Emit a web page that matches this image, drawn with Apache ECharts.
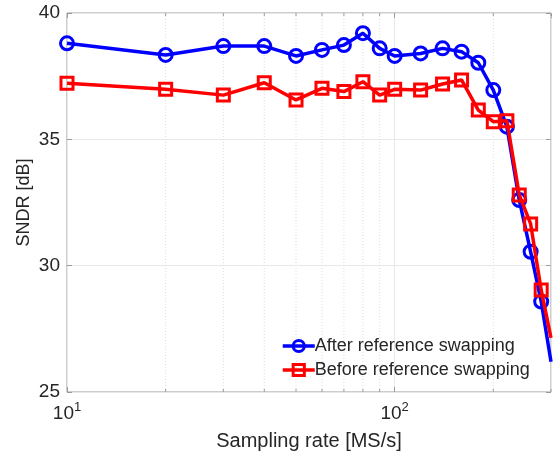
<!DOCTYPE html>
<html>
<head>
<meta charset="utf-8">
<script src="https://cdn.jsdelivr.net/npm/echarts@6/dist/echarts.min.js"></script>
<style>
    html, body { margin: 0; padding: 0; background: #fff; }
    #chart { width: 555px; height: 459px; }
</style>
</head>
<body>
<div id="chart"></div>
<script>
// sampling rates in MS/s
const rates = [10, 20, 30, 40, 50, 60, 70, 80, 90, 100, 120, 140, 160, 180, 200, 220, 240, 260, 280, 300];
const afterSwap = [38.8, 38.34, 38.69, 38.69, 38.3, 38.54, 38.73, 39.2, 38.6, 38.3, 38.4, 38.6, 38.47, 38.03, 36.95, 35.5, 32.6, 30.55, 28.58, 26.2];
const beforeSwap = [37.22, 36.98, 36.75, 37.24, 36.56, 37.02, 36.89, 37.28, 36.75, 36.98, 36.95, 37.19, 37.35, 36.16, 35.7, 35.74, 32.8, 31.65, 29.04, 27.14];
const minorX = [20, 30, 40, 50, 60, 70, 80, 90, 200, 300];
const yTicks = [25, 30, 35, 40];

const font = "Liberation Sans, Arial, sans-serif";
const textColor = "#262626";
const frameColor = "#9a9a9a";

function pairs(values) {
    return rates.map((r, i) => {
        // the last point sits on the frame, only its line shows
        if (i === rates.length - 1) return { value: [r, values[i]], symbol: "none" };
        return [r, values[i]];
    });
}

const chart = echarts.init(document.getElementById("chart"), null, { renderer: "canvas" });

chart.setOption({
    animation: false,
    backgroundColor: "#fff",
    grid: {
        left: 67, top: 13, width: 484, height: 379,
        show: true, borderColor: frameColor, borderWidth: 1, backgroundColor: "#fff"
    },
    legend: {
        orient: "vertical",
        left: 276, top: 332,
        itemWidth: 32, itemHeight: 14, itemGap: 6,
        lineStyle: { width: 3.5 },
        itemStyle: { borderWidth: 3 },
        textStyle: { fontFamily: font, fontSize: 18, color: textColor, padding: [0, 0, 0, -5] },
        data: ["After reference swapping", "Before reference swapping"]
    },
    xAxis: [{
        type: "log", logBase: 10, min: 10, max: 300, interval: 1,
        name: "Sampling rate [MS/s]", nameLocation: "middle", nameGap: 39,
        nameTextStyle: { fontFamily: font, fontSize: 20, color: textColor },
        axisLine: { show: false },
        axisTick: { inside: true, length: 5, lineStyle: { color: frameColor } },
        splitLine: { show: true, lineStyle: { color: "#e8e8e8", width: 1 } },
        axisLabel: {
            margin: 9,
            showMaxLabel: false,
            formatter: v => {
                const e = Math.round(Math.log10(v));
                if (Math.abs(Math.pow(10, e) - v) > 1e-6) return "";
                return "{b|10}{s|" + e + "}";
            },
            rich: {
                b: { fontFamily: font, fontSize: 19, color: textColor, verticalAlign: "bottom", lineHeight: 22 },
                s: { fontFamily: font, fontSize: 13, color: textColor, verticalAlign: "top", lineHeight: 22, padding: [0, 0, 8, 0] }
            }
        }
    }, {
        type: "log", logBase: 10, min: 10, max: 300, interval: 1, position: "top",
        axisLine: { show: false },
        axisTick: { inside: true, length: 5, lineStyle: { color: frameColor } },
        axisLabel: { show: false },
        splitLine: { show: false }
    }],
    yAxis: [{
        type: "value", min: yTicks[0], max: yTicks[yTicks.length - 1], interval: 5,
        name: "SNDR [dB]", nameLocation: "middle", nameGap: 34, nameRotate: 90,
        nameMoveOverlap: false,
        nameTextStyle: { fontFamily: font, fontSize: 18, color: textColor },
        axisLine: { show: false },
        axisTick: { inside: true, length: 5, lineStyle: { color: frameColor } },
        splitLine: { show: true, lineStyle: { color: "#e8e8e8", width: 1 } },
        axisLabel: { margin: 7, fontFamily: font, fontSize: 19, color: textColor }
    }, {
        type: "value", min: yTicks[0], max: yTicks[yTicks.length - 1], interval: 5, position: "right",
        axisLine: { show: false },
        axisTick: { inside: true, length: 5, lineStyle: { color: frameColor } },
        axisLabel: { show: false },
        splitLine: { show: false }
    }],
    series: [{
        // minor log grid, dotted, plus minor ticks on bottom and top
        type: "custom",
        silent: true,
        z: 1,
        data: minorX.map(x => [x]),
        renderItem: (params, api) => {
            const x = api.value(0);
            const bot = api.coord([x, yTicks[0]]);
            const top = api.coord([x, yTicks[yTicks.length - 1]]);
            const children = [{
                type: "line",
                shape: { x1: bot[0], y1: bot[1], x2: top[0], y2: top[1] },
                style: { stroke: "#dcdcdc", lineWidth: 1, lineDash: [1, 2] }
            }, {
                type: "line",
                shape: { x1: bot[0], y1: bot[1], x2: bot[0], y2: bot[1] - 3 },
                style: { stroke: frameColor, lineWidth: 1 }
            }, {
                type: "line",
                shape: { x1: top[0], y1: top[1], x2: top[0], y2: top[1] + 3 },
                style: { stroke: frameColor, lineWidth: 1 }
            }];
            return { type: "group", children: children };
        }
    }, {
        name: "After reference swapping",
        type: "line",
        data: pairs(afterSwap),
        z: 3,
        color: "#0000ff",
        lineStyle: { width: 3.5, color: "#0000ff" },
        symbol: "circle", symbolSize: 13,
        itemStyle: { color: "rgba(0,0,0,0)", borderColor: "#0000ff", borderWidth: 3 }
    }, {
        name: "Before reference swapping",
        type: "line",
        data: pairs(beforeSwap),
        z: 4,
        color: "#ff0000",
        lineStyle: { width: 3.5, color: "#ff0000" },
        symbol: "rect", symbolSize: 12,
        itemStyle: { color: "rgba(0,0,0,0)", borderColor: "#ff0000", borderWidth: 3 }
    }]
});
</script>
</body>
</html>
